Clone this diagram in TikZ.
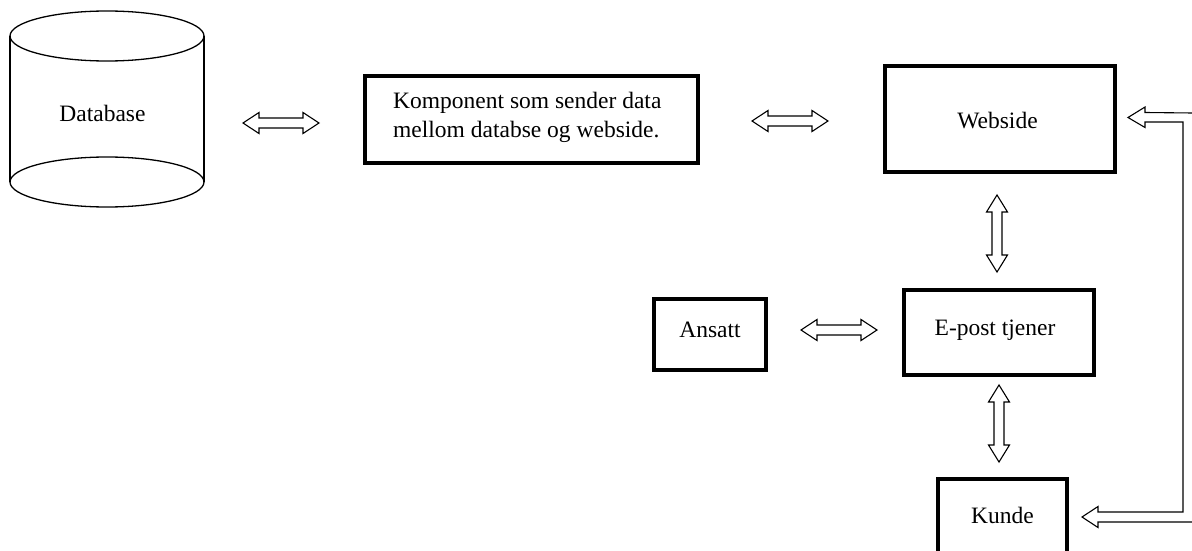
\documentclass[tikz,border=0pt]{standalone}
\usepackage{fontspec}
\setmainfont{Liberation Serif}
\usetikzlibrary{calc}
\tikzset{
  box/.style={draw, line width=4.3pt, inner sep=0pt, minimum width=#1},
  txt/.style={inner sep=0pt, font=\fontsize{23.5}{29}\selectfont},
  arrline/.style={draw, line width=1.1pt, line join=miter, fill=white},
  cyl/.style={draw, line width=1.3pt}
}
\newcommand\hdarrow[2]{\draw[arrline] (#1) -- ++(16,-10.5) -- ++(0,5.5) -- ($(#2)+(-16,-5)$) -- ++(0,-5.5) -- (#2) -- ++(-16,10.5) -- ++(0,-5.5) -- ($(#1)+(16,5)$) -- ++(0,5.5) -- cycle;}
\newcommand\vdarrow[2]{\draw[arrline] (#1) -- ++(-10.5,17) -- ++(5.5,0) -- ($(#2)+(-5,-17)$) -- ++(-5.5,0) -- (#2) -- ++(10.5,-17) -- ++(-5.5,0) -- ($(#1)+(5,17)$) -- ++(5.5,0) -- cycle;}
\begin{document}
\begin{tikzpicture}[x=1pt,y=-1pt]
\useasboundingbox[fill=white] (0,0) rectangle (1192,551);
% Database cylinder
\draw[cyl] (10,36) -- (10,182);
\draw[cyl] (204,36) -- (204,182);
\draw[cyl] (107,36) ellipse [x radius=97pt, y radius=25pt];
\draw[cyl] (107,182) ellipse [x radius=97pt, y radius=25pt];
\node[txt, anchor=base] (db) at (102.5,121.7) {Database};
% Boxes
\node[box=333pt, minimum height=87pt] (comp) at (531.5,119.5) {};
\node[txt, anchor=base west, align=left] (compt) at (393,137.8) {Komponent som sender data\\mellom databse og webside.};
\node[box=230pt, minimum height=106pt] (web) at (1000,119) {};
\node[txt, anchor=base] (webt) at (997.5,128.3) {Webside};
\node[box=190pt, minimum height=85pt] (epost) at (999,332.5) {};
\node[txt, anchor=base] (epostt) at (995,335.7) {E-post tjener};
\node[box=112pt, minimum height=71pt] (ansatt) at (710,334.5) {};
\node[txt, anchor=base] (ansattt) at (710,337) {Ansatt};
\node[box=129pt, minimum height=100pt] (kunde) at (1002.5,529) {};
\node[txt, anchor=base] (kundet) at (1002.5,523) {Kunde};
% Arrow end points
\coordinate (a1w) at (243,123);  \coordinate (a1e) at (319,123);
\coordinate (a2w) at (752,121);  \coordinate (a2e) at (828,121);
\coordinate (a3w) at (801,330);  \coordinate (a3e) at (877,330);
\coordinate (v1n) at (997,195);  \coordinate (v1s) at (997,272);
\coordinate (v2n) at (999,385);  \coordinate (v2s) at (999,462);
\coordinate (wtip) at (1128,117.5);
\coordinate (ktip) at (1082,517);
\hdarrow{a1w}{a1e}
\hdarrow{a2w}{a2e}
\hdarrow{a3w}{a3e}
\vdarrow{v1n}{v1s}
\vdarrow{v2n}{v2s}
% bent double arrow Webside <-> Kunde
\draw[arrline] (ktip) -- ++(16,-10.5) -- ++(0,5.5) -- ++(85,0) -- ($(wtip)+(55,4.5)$) -- ($(wtip)+(17,4.5)$) -- ++(0,5.5) -- (wtip) -- ++(17,-10.5) -- ++(0,5.5) -- ($(wtip)+(65,-4.5)$) -- ($(ktip)+(111,5)$) -- ($(ktip)+(16,5)$) -- ++(0,5.5) -- cycle;
\end{tikzpicture}
\end{document}
